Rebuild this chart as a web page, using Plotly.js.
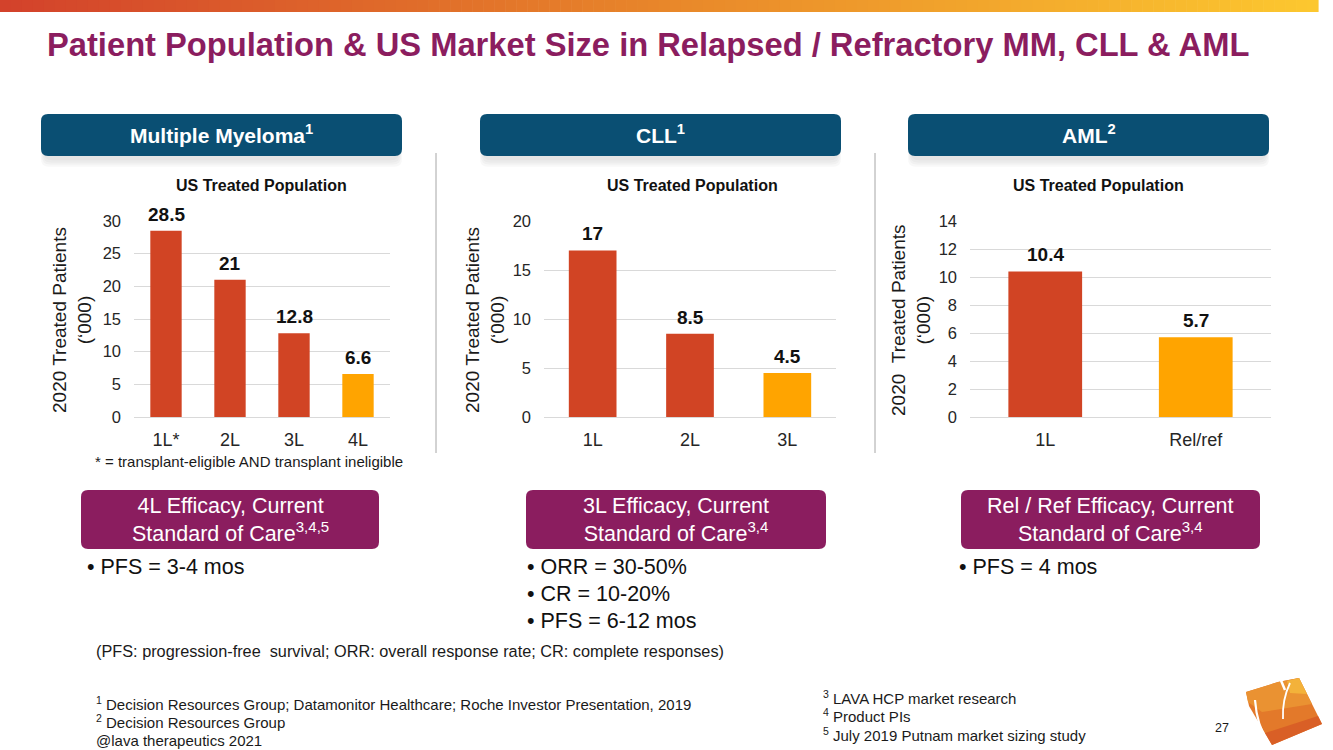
<!DOCTYPE html>
<html>
<head>
<meta charset="utf-8">
<script src="https://cdn.plot.ly/plotly-3.0.1.min.js"></script>
<style>html,body{margin:0;padding:0;background:#fff;}#chart{width:1333px;height:750px;}</style>
</head>
<body>
<div id="chart"></div>
<script>
// ---------- data ----------
const mmCategories = ['1L*', '2L', '3L', '4L'];
const mmValues = [28.5, 21, 12.8, 6.6];
const cllCategories = ['1L', '2L', '3L'];
const cllValues = [17, 8.5, 4.5];
const amlCategories = ['1L', 'Rel/ref'];
const amlValues = [10.4, 5.7];

const panelHeaders = ['Multiple Myeloma<sup>1</sup>', 'CLL<sup>1</sup>', 'AML<sup>2</sup>'];
const chartTitle = 'US Treated Population';
const yTitleMain = '2020 Treated Patients<br>(‘000)';
const yTitleAml = '2020\u00a0\u00a0Treated Patients<br>(‘000)';
const efficacyHeaders = [
  '4L Efficacy, Current<br>Standard of Care<sup>3,4,5</sup>',
  '3L Efficacy, Current<br>Standard of Care<sup>3,4</sup>',
  'Rel / Ref Efficacy, Current<br>Standard of Care<sup>3,4</sup>'
];
const efficacyBullets = [
  ['• PFS = 3-4 mos'],
  ['• ORR = 30-50%', '• CR = 10-20%', '• PFS = 6-12 mos'],
  ['• PFS = 4 mos']
];
const footnotesLeft = [
  '<sup>1</sup> Decision Resources Group; Datamonitor Healthcare; Roche Investor Presentation, 2019',
  '<sup>2</sup> Decision Resources Group',
  '@lava therapeutics 2021'
];
const footnotesRight = [
  '<sup>3</sup> LAVA HCP market research',
  '<sup>4</sup> Product PIs',
  '<sup>5</sup> July 2019 Putnam market sizing study'
];

// ---------- helpers ----------
const W = 1333, H = 750;
const FONT = 'Liberation Sans, Arial, Helvetica, sans-serif';
const RED = '#d14424', ORANGE = '#ffa400', BLUE = '#0a4f73', MAGENTA = '#8b1d5f';
const px = x => x / W;
const py = y => 1 - y / H;

function rectShape(x0, y0, x1, y1, fill, opacity) {
  return {type: 'rect', xref: 'paper', yref: 'paper', x0: px(x0), x1: px(x1), y0: py(y1), y1: py(y0),
    fillcolor: fill, line: {width: 0}, opacity: opacity === undefined ? 1 : opacity, layer: 'below'};
}
function roundRect(x0, y0, x1, y1, r, fill, opacity) {
  const P = (x, y) => px(x) + ',' + py(y);
  const path = 'M' + P(x0 + r, y0) + ' L' + P(x1 - r, y0) + ' Q' + P(x1, y0) + ' ' + P(x1, y0 + r) +
    ' L' + P(x1, y1 - r) + ' Q' + P(x1, y1) + ' ' + P(x1 - r, y1) +
    ' L' + P(x0 + r, y1) + ' Q' + P(x0, y1) + ' ' + P(x0, y1 - r) +
    ' L' + P(x0, y0 + r) + ' Q' + P(x0, y0) + ' ' + P(x0 + r, y0) + ' Z';
  return {type: 'path', xref: 'paper', yref: 'paper', path: path, fillcolor: fill, line: {width: 0},
    opacity: opacity === undefined ? 1 : opacity, layer: 'below'};
}
function polyShape(pts, fill) {
  const path = pts.map((p, i) => (i ? 'L' : 'M') + px(p[0]) + ',' + py(p[1])).join(' ') + ' Z';
  return {type: 'path', xref: 'paper', yref: 'paper', path: path, fillcolor: fill, line: {width: 0}, layer: 'above'};
}
function curveShape(a, c, b, color, width) {
  const path = 'M' + px(a[0]) + ',' + py(a[1]) + ' Q' + px(c[0]) + ',' + py(c[1]) + ' ' + px(b[0]) + ',' + py(b[1]);
  return {type: 'path', xref: 'paper', yref: 'paper', path: path, line: {color: color, width: width}, layer: 'above'};
}
function lineShape(x0, y0, x1, y1, color, width) {
  return {type: 'line', xref: 'paper', yref: 'paper', x0: px(x0), x1: px(x1), y0: py(y0), y1: py(y1),
    line: {color: color, width: width}, layer: 'above'};
}
function txt(x, y, text, size, color, opts) {
  return Object.assign({xref: 'paper', yref: 'paper', x: px(x), y: py(y), text: text, showarrow: false,
    xanchor: 'center', yanchor: 'middle', font: {family: FONT, size: size, color: color}}, opts || {});
}
function lerpColor(a, b, t) {
  const ca = [parseInt(a.slice(1, 3), 16), parseInt(a.slice(3, 5), 16), parseInt(a.slice(5, 7), 16)];
  const cb = [parseInt(b.slice(1, 3), 16), parseInt(b.slice(3, 5), 16), parseInt(b.slice(5, 7), 16)];
  return 'rgb(' + ca.map((v, i) => Math.round(v + (cb[i] - v) * t)).join(',') + ')';
}

// ---------- traces ----------
function barTrace(cats, vals, xa, ya) {
  return {type: 'bar', x: cats, y: vals, xaxis: xa, yaxis: ya,
    marker: {color: vals.map((v, i) => i === vals.length - 1 ? ORANGE : RED)},
    hoverinfo: 'x+y', showlegend: false};
}
const data = [
  barTrace(mmCategories, mmValues, 'x', 'y'),
  barTrace(cllCategories, cllValues, 'x2', 'y2'),
  barTrace(amlCategories, amlValues, 'x3', 'y3')
];

// ---------- axes ----------
const yDom = [py(417), py(221)];
function xAx(x0, x1, anchor) {
  return {domain: [px(x0), px(x1)], anchor: anchor, showgrid: false, showline: false, zeroline: false, ticks: '',
    tickfont: {family: FONT, size: 18, color: '#262626'}, ticklabelstandoff: 10, fixedrange: true};
}
function yAx(max, dtick, anchor) {
  return {domain: yDom, range: [0, max], dtick: dtick, tick0: 0, anchor: anchor,
    showgrid: true, gridcolor: '#d9d9d9', gridwidth: 1, zeroline: true, zerolinecolor: '#d9d9d9', zerolinewidth: 1,
    showline: false, ticks: '', tickfont: {family: FONT, size: 16.5, color: '#262626'}, ticklabelstandoff: 12, fixedrange: true};
}

// ---------- shapes ----------
const shapes = [];
// top gradient bar
const nSeg = 120, barEnd = 1318;
for (let i = 0; i < nSeg; i++) {
  const t = i / (nSeg - 1);
  const c = t < 0.5 ? lerpColor('#d3422b', '#e8862a', t / 0.5) : lerpColor('#e8862a', '#fcc72f', (t - 0.5) / 0.5);
  shapes.push(rectShape(barEnd * i / nSeg, 0, barEnd * (i + 1) / nSeg + 0.6, 12, c));
}
// header boxes with soft shadow
const headerBoxes = [[41, 402], [480, 841], [908, 1269]];
headerBoxes.forEach(b => {
  for (let k = 1; k <= 4; k++) {
    shapes.push(roundRect(b[0] + 4 - k, 118 + k * 1.5, b[1] - 4 + k, 158 + k * 2.2, 8, '#9a9a9a', 0.07));
  }
  shapes.push(roundRect(b[0], 114, b[1], 156, 7, BLUE));
});
// separators
shapes.push(lineShape(436, 153, 436, 453, '#a6a6a6', 1));
shapes.push(lineShape(875, 153, 875, 453, '#a6a6a6', 1));
// efficacy boxes
const effBoxes = [[81, 379], [526, 826], [961, 1260]];
effBoxes.forEach(b => shapes.push(roundRect(b[0], 490, b[1], 549, 7, MAGENTA)));
// logo (approximation of the brand mark): kite shape, yellow at the tip to red-orange at the bottom
const logoOuter = [[1246, 692], [1278, 682], [1299, 678], [1322, 724], [1272, 745], [1249, 706]];
shapes.push(polyShape(logoOuter, '#e3792a'));
shapes.push(polyShape([[1246, 692], [1278, 682], [1299, 678], [1312, 704], [1262, 712], [1248, 702]], '#ea9232'));
shapes.push(polyShape([[1287, 681], [1299, 678], [1307, 694], [1290, 693]], '#f3b23a'));
shapes.push(polyShape([[1272, 745], [1322, 724], [1318, 716], [1265, 733]], '#d95f26'));
shapes.push(lineShape(1280, 678, 1285, 690, '#ffffff', 2.5));
shapes.push(curveShape([1255, 700], [1257, 726], [1268, 742], '#ffffff', 2.2));
shapes.push(curveShape([1290, 683], [1282, 700], [1283, 719], '#ffffff', 1.8));

// ---------- annotations ----------
const ann = [];
headerBoxes.forEach((b, i) => ann.push(txt((b[0] + b[1]) / 2, 134, '<b>' + panelHeaders[i] + '</b>', 21, '#ffffff')));
[261, 692, 1098].forEach(x => ann.push(txt(x, 185, '<b>' + chartTitle + '</b>', 16, '#111111')));
ann.push(txt(72, 320, yTitleMain, 19, '#1a1a1a', {textangle: -90}));
ann.push(txt(485, 320, yTitleMain, 19, '#1a1a1a', {textangle: -90}));
ann.push(txt(911, 320, yTitleAml, 19, '#1a1a1a', {textangle: -90}));
ann.push(txt(93, 461, '* = transplant-eligible AND transplant ineligible', 15, '#1a1a1a', {xanchor: 'left'}));

function barLabels(cats, vals, xa, ya) {
  cats.forEach((c, i) => ann.push({xref: xa, yref: ya, x: c, y: vals[i], text: '<b>' + vals[i] + '</b>',
    showarrow: false, yanchor: 'bottom', yshift: 4, font: {family: FONT, size: 19, color: '#111111'}}));
}
barLabels(mmCategories, mmValues, 'x', 'y');
barLabels(cllCategories, cllValues, 'x2', 'y2');
barLabels(amlCategories, amlValues, 'x3', 'y3');

effBoxes.forEach((b, i) => ann.push(txt((b[0] + b[1]) / 2, 520, efficacyHeaders[i], 21.5, '#ffffff')));
const bulletX = [85, 525, 957];
efficacyBullets.forEach((list, i) => list.forEach((t, j) =>
  ann.push(txt(bulletX[i], 567 + j * 27, t, 21.5, '#111111', {xanchor: 'left'}))));
ann.push(txt(94, 651, '(PFS: progression-free \u00a0survival; ORR: overall response rate; CR: complete responses)',
  16.3, '#1a1a1a', {xanchor: 'left'}));
footnotesLeft.forEach((t, j) => ann.push(txt(94, 703 + j * 18.5, t, 15, '#1a1a1a', {xanchor: 'left'})));
footnotesRight.forEach((t, j) => ann.push(txt(821, 697 + j * 18.5, t, 15, '#1a1a1a', {xanchor: 'left'})));
ann.push(txt(1222, 728, '27', 12.5, '#1a1a1a'));

const layout = {
  width: W, height: H, margin: {l: 0, r: 0, t: 0, b: 0},
  paper_bgcolor: '#ffffff', plot_bgcolor: 'rgba(0,0,0,0)',
  title: {text: '<b>Patient Population &amp; US Market Size in Relapsed / Refractory MM, CLL &amp; AML</b>',
    x: px(47), xanchor: 'left', xref: 'paper', y: 1 - 45 / H, yanchor: 'middle',
    font: {family: FONT, size: 32.7, color: MAGENTA}},
  bargap: 0.51, showlegend: false,
  xaxis: xAx(134, 390, 'y'), yaxis: yAx(30, 5, 'x'),
  xaxis2: xAx(544, 836, 'y2'), yaxis2: yAx(20, 5, 'x2'),
  xaxis3: xAx(970, 1271, 'y3'), yaxis3: yAx(14, 2, 'x3'),
  shapes: shapes, annotations: ann
};

Plotly.newPlot('chart', data, layout, {displayModeBar: false, staticPlot: true});
</script>
</body>
</html>
